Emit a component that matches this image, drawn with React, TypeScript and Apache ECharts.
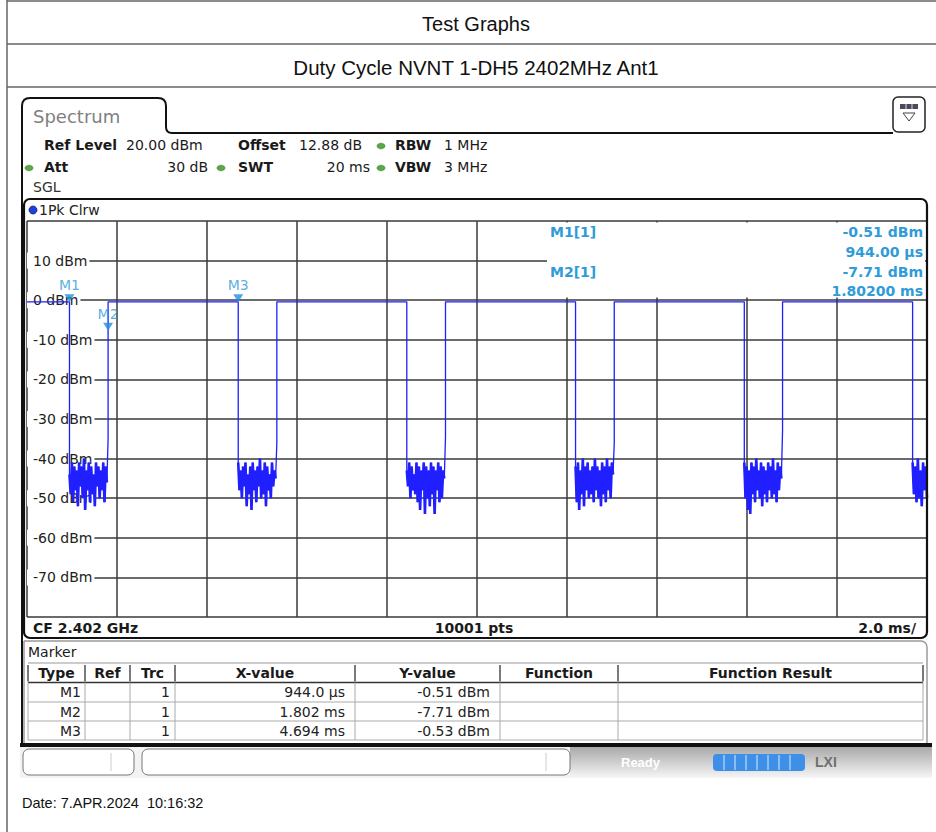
import { useEffect, useRef } from "react";
import * as echarts from "echarts";

// ---- axes ----
const TIME_MIN_MS = 0;
const TIME_MAX_MS = 20;
const TIME_DIV_MS = 2;
const LEVEL_MIN_DBM = -80;
const LEVEL_MAX_DBM = 20;
const LEVEL_DIV_DB = 10;

// ---- trace ----
const burstLevelDbm = -0.4;
const burstFallMs = [0.944, 4.694, 8.44, 12.19, 15.94, 19.68];
const burstRiseMs = [1.802, 5.552, 9.3, 13.05, 16.79];
const riseTailDbm = [-35, -36, -34.5, -36, -33];
const noiseGap1 = [-44, -49, -41, -51, -42, -48, -43, -52, -41, -47, -42, -50, -40, -53, -43, -48, -41, -51, -42, -49, -44, -52, -41, -47, -42, -50, -43, -48, -41, -51, -42, -46];
const noiseGap2 = [-41, -48, -43, -50, -42, -47, -41, -52, -44, -49, -42, -53, -41, -48, -43, -51, -42, -47, -40, -50, -43, -49, -41, -52, -42, -48, -44, -50, -41, -47, -43, -45];
const noiseGap3 = [-43, -47, -41, -50, -42, -48, -44, -49, -41, -51, -42, -53, -43, -48, -41, -54, -42, -50, -43, -52, -41, -49, -42, -54, -43, -48, -41, -51, -42, -50, -43, -45];
const noiseGap4 = [-42, -51, -41, -53, -43, -49, -40, -52, -42, -48, -41, -50, -43, -49, -42, -51, -40, -48, -42, -50, -43, -52, -41, -49, -42, -51, -40, -48, -42, -50, -41, -44];
const noiseGap5 = [-41, -50, -42, -53, -43, -54, -41, -49, -42, -51, -40, -48, -43, -50, -41, -52, -42, -49, -43, -51, -41, -48, -42, -50, -40, -49, -43, -51, -41, -48, -42, -45];
const noiseGap6 = [-41, -49, -42, -51, -40, -50, -43, -52, -41, -48, -42, -50];
const gapNoiseDbm = [noiseGap1, noiseGap2, noiseGap3, noiseGap4, noiseGap5, noiseGap6];

// ---- markers ----
const markerNames = ["M1", "M2", "M3"];
const markerTimesMs = [0.944, 1.802, 4.694];
const markerLevelsDbm = [-0.51, -7.71, -0.53];
const markerTrace = ["1", "1", "1"];
const markerXText = ["944.0 µs", "1.802 ms", "4.694 ms"];
const markerYText = ["-0.51 dBm", "-7.71 dBm", "-0.53 dBm"];
const tableHeaders = ["Type", "Ref", "Trc", "X-value", "Y-value", "Function", "Function Result"];

const FONT = '"DejaVu Sans", Verdana, sans-serif';
const ARIAL = '"Liberation Sans", Arial, sans-serif';
const MARK_BLUE = "#2f9bd8";
const TRACE_BLUE = "#1f1fff";

function gapPoints(i: number) {
  const fall = burstFallMs[i];
  const noise = gapNoiseDbm[i];
  const rise = burstRiseMs[i];
  const end = rise !== undefined ? rise : TIME_MAX_MS;
  const n = noise.length;
  const span = rise !== undefined ? ((end - fall) * (n - 1)) / n : end - fall;
  return noise.map((v, k) => [fall + (span * k) / (n - 1), v]);
}

function buildTrace() {
  const pts: number[][] = [[TIME_MIN_MS, burstLevelDbm]];
  burstFallMs.forEach((fall, i) => {
    const rise = burstRiseMs[i];
    pts.push([fall, burstLevelDbm]);
    gapPoints(i).forEach((p) => pts.push(p));
    if (rise !== undefined) {
      pts.push([rise, riseTailDbm[i]]);
      pts.push([rise, burstLevelDbm]);
    }
  });
  return pts;
}

function txt(x: number, y: number, text: string, o: any = {}) {
  const align = o.align || "left";
  return {
    type: "text",
    x,
    y,
    z: o.z ?? 20,
    style: {
      text,
      fill: o.fill || "#1a1a1a",
      font: `${o.weight || "normal"} ${o.size || 14}px ${o.family || FONT}`,
      align,
      verticalAlign: "middle",
      textAlign: align,
      textVerticalAlign: "middle",
    },
  };
}
function ln(x1: number, y1: number, x2: number, y2: number, stroke = "#333", lineWidth = 1, z = 15) {
  return { type: "line", z, shape: { x1, y1, x2, y2 }, style: { stroke, lineWidth } };
}
function box(x: number, y: number, w: number, h: number, o: any = {}) {
  return {
    type: "rect",
    z: o.z ?? 14,
    shape: { x, y, width: w, height: h, r: o.r ?? 0 },
    style: { fill: o.fill ?? "none", stroke: o.stroke ?? "none", lineWidth: o.lw ?? 1 },
  };
}

echarts.graphic.registerShape(
  "tabOutline",
  echarts.graphic.extendPath(
    "M22 745 L22 106 Q22 98 30 98 L158 98 Q166 98 166 106 L166 127 Q166 133 172 133 L893 133",
    {}
  )
);

function buildGraphics() {
  const g: any[] = [];
  // outer report frame
  g.push(ln(7, 1, 936, 1, "#666", 1.5));
  g.push(ln(7, 44, 936, 44, "#666", 1.5));
  g.push(ln(7, 87, 936, 87, "#666", 1.5));
  g.push(ln(7, 0, 7, 832, "#666", 1.5));
  g.push(txt(476, 24, "Test Graphs", { family: ARIAL, size: 20, align: "center", fill: "#111" }));
  g.push(txt(476, 67, "Duty Cycle NVNT 1-DH5 2402MHz Ant1", { family: ARIAL, size: 20.5, align: "center", fill: "#111" }));

  // instrument tab
  g.push({ type: "tabOutline", x: 0, y: 0, z: 15, style: { fill: "none", stroke: "#111", lineWidth: 2 } });
  g.push(txt(33, 116, "Spectrum", { size: 18, fill: "#808080" }));
  // icon top right
  g.push(box(893, 97, 32, 35, { r: 5, stroke: "#222", lw: 1.5, fill: "#fff" }));
  g.push(box(900, 104, 18, 5, { fill: "#4a4a5a" }));
  g.push(ln(906, 104, 906, 109, "#ddd", 1, 16));
  g.push(ln(912, 104, 912, 109, "#ddd", 1, 16));
  g.push({ type: "polygon", z: 16, shape: { points: [[903, 113], [915, 113], [909, 121]] }, style: { fill: "none", stroke: "#444", lineWidth: 1 } });

  // header
  const dot = (cx: number, cy: number) => ({ type: "ellipse", z: 16, shape: { cx, cy, rx: 4, ry: 2.8 }, style: { fill: "#5aa845", stroke: "#3d7a2e", lineWidth: 0.6 } });
  g.push(txt(44, 145, "Ref Level", { weight: "bold" }));
  g.push(txt(126, 145, "20.00 dBm"));
  g.push(txt(238, 145, "Offset", { weight: "bold" }));
  g.push(txt(299, 145, "12.88 dB"));
  g.push(dot(381, 146));
  g.push(txt(395, 145, "RBW", { weight: "bold" }));
  g.push(txt(444, 145, "1 MHz"));
  g.push(dot(29, 168));
  g.push(txt(44, 167, "Att", { weight: "bold" }));
  g.push(txt(208, 167, "30 dB", { align: "right" }));
  g.push(dot(221, 168));
  g.push(txt(238, 167, "SWT", { weight: "bold" }));
  g.push(txt(370, 167, "20 ms", { align: "right" }));
  g.push(dot(381, 168));
  g.push(txt(395, 167, "VBW", { weight: "bold" }));
  g.push(txt(444, 167, "3 MHz"));
  g.push(txt(33, 187, "SGL", { fill: "#333" }));

  // plot frame
  g.push(box(24, 199, 903, 439, { r: 6, stroke: "#111", lw: 2.2, z: 18 }));
  g.push({ type: "circle", z: 19, shape: { cx: 33, cy: 210, r: 4 }, style: { fill: "#1f3fe0", stroke: "#10206a", lineWidth: 0.8 } });
  g.push(txt(39, 210, "1Pk Clrw", { fill: "#222" }));
  g.push(txt(33, 628, "CF 2.402 GHz", { weight: "bold" }));
  g.push(txt(474, 628, "10001 pts", { weight: "bold", align: "center" }));
  g.push(txt(916, 628, "2.0 ms/", { weight: "bold", align: "right" }));

  // marker readout (top right of the diagram)
  g.push(box(547, 222.5, 378, 75, { fill: "#fff", z: 10 }));
  g.push(txt(550, 232, "M1[1]", { weight: "bold", fill: MARK_BLUE }));
  g.push(txt(923, 232, "-0.51 dBm", { weight: "bold", fill: MARK_BLUE, align: "right" }));
  g.push(txt(923, 252, "944.00 µs", { weight: "bold", fill: MARK_BLUE, align: "right" }));
  g.push(txt(550, 272, "M2[1]", { weight: "bold", fill: MARK_BLUE }));
  g.push(txt(923, 272, "-7.71 dBm", { weight: "bold", fill: MARK_BLUE, align: "right" }));
  g.push(txt(923, 291, "1.80200 ms", { weight: "bold", fill: MARK_BLUE, align: "right" }));

  // marker table
  g.push(box(24, 641, 903, 104, { r: [0, 6, 0, 0], stroke: "#9a9a9a", lw: 1.5 }));
  g.push(txt(28, 652, "Marker"));
  const colX = [28, 85, 130, 175, 355, 500, 618, 923];
  const rowY = [663, 682.5, 702, 721, 740];
  g.push(ln(28, rowY[0], 923, rowY[0], "#999", 1));
  g.push(ln(28, rowY[1], 923, rowY[1], "#333", 1.5));
  g.push(ln(28, rowY[2], 923, rowY[2], "#aaa", 1));
  g.push(ln(28, rowY[3], 923, rowY[3], "#aaa", 1));
  g.push(ln(28, rowY[4], 923, rowY[4], "#aaa", 1));
  colX.forEach((x) => {
    g.push(ln(x, rowY[0] + 2, x, rowY[1] - 1, "#333", 1.3));
    g.push(ln(x, rowY[1], x, rowY[4], "#aaa", 1));
  });
  tableHeaders.forEach((h, i) => {
    g.push(txt((colX[i] + colX[i + 1]) / 2, 673, h, { weight: "bold", align: "center" }));
  });
  markerNames.forEach((m, i) => {
    const cy = (rowY[i + 1] + rowY[i + 2]) / 2;
    g.push(txt(81, cy, m, { align: "right", fill: "#222" }));
    g.push(txt(170, cy, markerTrace[i], { align: "right", fill: "#222" }));
    g.push(txt(345, cy, markerXText[i], { align: "right", fill: "#222" }));
    g.push(txt(490, cy, markerYText[i], { align: "right", fill: "#222" }));
  });

  // status bar
  g.push(box(20, 743, 912, 4, { fill: "#111" }));
  g.push({
    type: "rect",
    z: 13,
    shape: { x: 570, y: 747, width: 362, height: 31 },
    style: {
      fill: new echarts.graphic.LinearGradient(0, 0, 0, 1, [
        { offset: 0, color: "#a9a9a9" },
        { offset: 1, color: "#f6f6f6" },
      ]),
    },
  });
  g.push({ type: "rect", z: 12, shape: { x: 20, y: 747, width: 550, height: 31 }, style: { fill: "#f3f3f3" } });
  g.push(box(23, 749, 111, 26, { r: 6, stroke: "#777", lw: 1, fill: "#fff" }));
  g.push(ln(111, 753, 111, 771, "#ccc", 1));
  g.push(box(142, 749, 428, 26, { r: 6, stroke: "#777", lw: 1, fill: "#fff" }));
  g.push(ln(546, 753, 546, 771, "#ccc", 1));
  g.push(txt(621, 762, "Ready", { fill: "#ffffff", size: 13, weight: "bold", family: ARIAL }));
  g.push(box(713, 754, 92, 17, { r: 4, fill: "#3d8fe8" }));
  [724, 735, 746, 757, 768, 779, 790].forEach((x) => g.push(ln(x, 755, x, 770, "#dbe9fb", 1, 16)));
  g.push(txt(815, 762, "LXI", { fill: "#6f6f6f", size: 14, weight: "bold", family: ARIAL }));

  // footer
  g.push(txt(22, 803, "Date: 7.APR.2024  10:16:32", { family: ARIAL, size: 14.5, fill: "#111" }));
  return g;
}

export default function App() {
  const ref = useRef<HTMLDivElement>(null);
  useEffect(() => {
    if (!ref.current) return;
    const chart = echarts.init(ref.current, undefined, { renderer: "svg" });
    const noiseSeries = burstFallMs.map((_, i) => ({
      type: "line",
      data: gapPoints(i),
      showSymbol: false,
      symbol: "none",
      lineStyle: { color: TRACE_BLUE, width: 2.6 },
      z: 3,
      silent: true,
    }));
    const option: any = {
      animation: false,
      backgroundColor: "#ffffff",
      grid: { left: 27, top: 221, width: 900, height: 396, containLabel: false },
      xAxis: {
        type: "value",
        min: TIME_MIN_MS,
        max: TIME_MAX_MS,
        interval: TIME_DIV_MS,
        axisLine: { show: false },
        axisTick: { show: false },
        axisLabel: { show: false },
        splitLine: { show: true, lineStyle: { color: "#3a3a3a", width: 1.5 } },
      },
      yAxis: {
        type: "value",
        min: LEVEL_MIN_DBM,
        max: LEVEL_MAX_DBM,
        interval: LEVEL_DIV_DB,
        axisLine: { show: false },
        axisTick: { show: false },
        splitLine: { show: true, lineStyle: { color: "#3a3a3a", width: 1.5 } },
        axisLabel: {
          inside: true,
          margin: 0,
          showMinLabel: false,
          showMaxLabel: false,
          formatter: (v: number) => `${v} dBm`,
          color: "#222",
          fontSize: 14,
          fontFamily: FONT,
          backgroundColor: "#ffffff",
          padding: [1, 2, 1, 6],
        },
      },
      series: [
        {
          type: "line",
          data: buildTrace(),
          showSymbol: false,
          symbol: "none",
          lineStyle: { color: TRACE_BLUE, width: 1.3 },
          z: 3,
          silent: true,
        },
        ...noiseSeries,
        {
          type: "scatter",
          data: markerTimesMs.map((t, i) => ({ value: [t, markerLevelsDbm[i]], name: markerNames[i] })),
          symbol: "triangle",
          symbolRotate: 180,
          symbolSize: [10, 8],
          symbolOffset: [0, "-50%"],
          itemStyle: { color: "#1e8ee0" },
          label: {
            show: true,
            position: "top",
            distance: 2,
            formatter: "{b}",
            color: MARK_BLUE,
            fontSize: 14,
            fontFamily: FONT,
          },
          z: 4,
        },
      ],
      graphic: { elements: buildGraphics() },
    };
    chart.setOption(option);
    return () => chart.dispose();
  }, []);
  return <div ref={ref} style={{ position: "absolute", left: 0, top: 0, width: 936, height: 832 }} />;
}
